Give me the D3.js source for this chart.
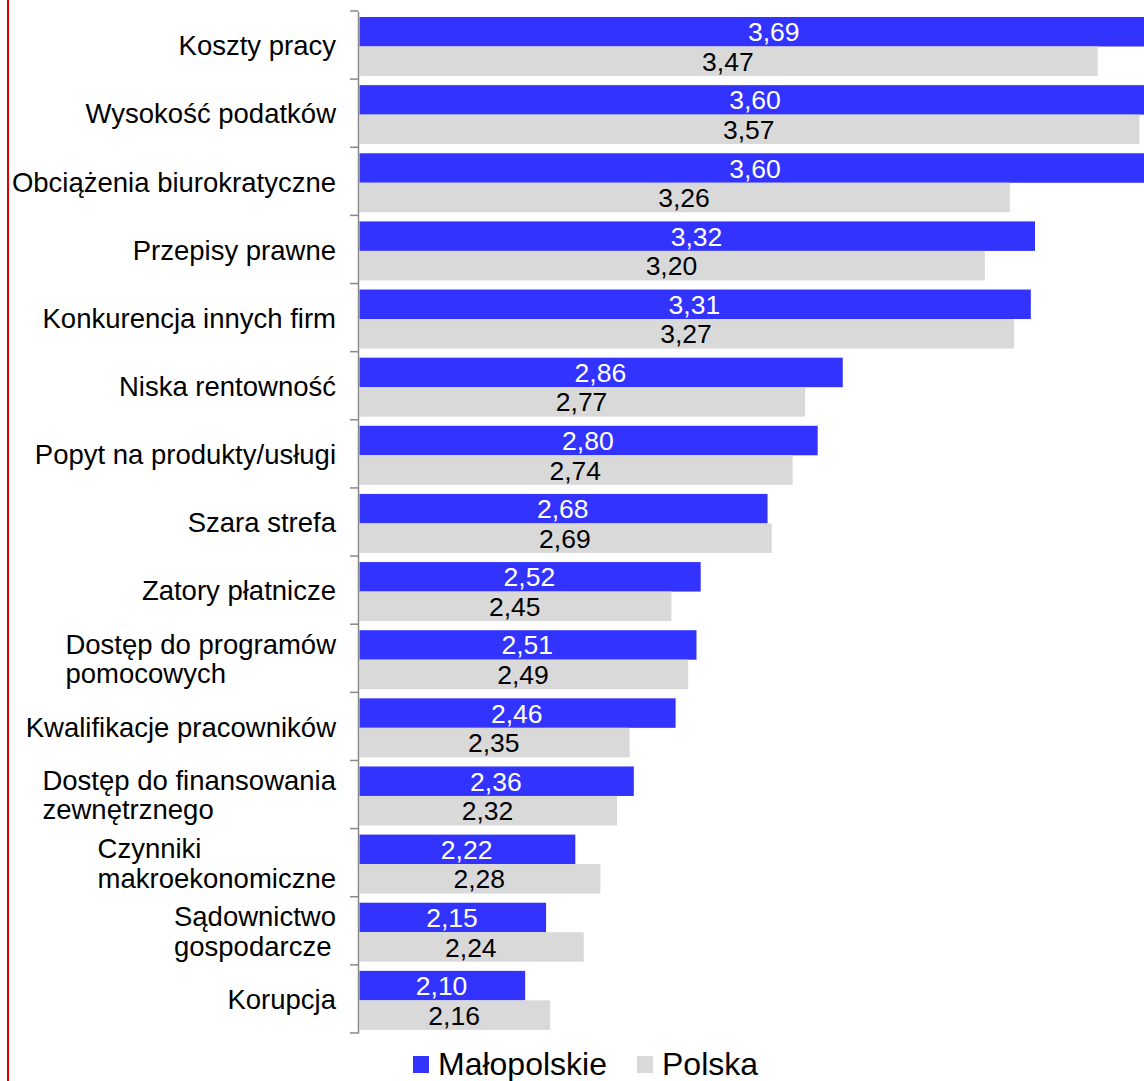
<!DOCTYPE html>
<html>
<head>
<meta charset="utf-8">
<script src="https://cdn.jsdelivr.net/npm/d3@7"></script>
<style>
  body { margin: 0; background: #fff; }
  svg { display: block; font-family: "Liberation Sans", Arial, sans-serif; }
</style>
</head>
<body>
<svg id="chart"></svg>
<script>
"use strict";

/*
*  DATA
*/

var categories = [
  ["Koszty pracy"],
  ["Wysokość podatków"],
  ["Obciążenia biurokratyczne"],
  ["Przepisy prawne"],
  ["Konkurencja innych firm"],
  ["Niska rentowność"],
  ["Popyt na produkty/usługi"],
  ["Szara strefa"],
  ["Zatory płatnicze"],
  ["Dostęp do programów", "pomocowych"],
  ["Kwalifikacje pracowników"],
  ["Dostęp do finansowania", "zewnętrznego"],
  ["Czynniki", "makroekonomiczne"],
  ["Sądownictwo", "gospodarcze"],
  ["Korupcja"]
];
var malopolskie = [3.69, 3.60, 3.60, 3.32, 3.31, 2.86, 2.80, 2.68, 2.52, 2.51, 2.46, 2.36, 2.22, 2.15, 2.10];
var polska = [3.47, 3.57, 3.26, 3.20, 3.27, 2.77, 2.74, 2.69, 2.45, 2.49, 2.35, 2.32, 2.28, 2.24, 2.16];
var seriesNames = ["Małopolskie", "Polska"];
var seriesColors = ["#3333ff", "#d9d9d9"];
var labelColors = ["#ffffff", "#000000"];
var xDomain = [1.7, 3.6];

/*
*  RUN
*/

drawChart();

function drawChart() {
  var width = 1144,
      height = 1081;

  var svg = d3.select("#chart").attr("width", width).attr("height", height);

  // red frame line on the left
  svg.append("line").attr("x1", 8).attr("x2", 8).attr("y1", 0).attr("y2", height)
    .attr("stroke", "#e00000").attr("stroke-width", 2);

  var idx = d3.range(categories.length);
  var y = d3.scaleBand().domain(idx).range([11, 1033]).padding(0);
  var inner = d3.scaleBand().domain([0, 1]).range([6, 65]);
  var x = d3.scaleLinear().domain(xDomain).range([358, 1152]);

  var rows = idx.map(function (i) {
    return [malopolskie[i], polska[i]];
  });

  // bars
  var groups = svg.selectAll(".grp").data(rows).enter().append("g")
    .attr("class", "grp")
    .attr("transform", function (d, i) { return "translate(0," + y(i) + ")"; });

  groups.selectAll("rect").data(function (d) { return d; }).enter().append("rect")
    .attr("x", x(xDomain[0]) + 1.5)
    .attr("y", function (d, s) { return inner(s); })
    .attr("width", function (d) { return x(d) - x(xDomain[0]) - 1.5; })
    .attr("height", inner.bandwidth())
    .attr("fill", function (d, s) { return seriesColors[s]; });

  groups.selectAll("text.val").data(function (d) { return d; }).enter().append("text")
    .attr("class", "val")
    .attr("x", function (d) { return (x(xDomain[0]) + x(d)) / 2; })
    .attr("y", function (d, s) { return inner(s) + inner.bandwidth() / 2; })
    .attr("dy", "0.36em")
    .attr("text-anchor", "middle")
    .attr("font-size", "26.5px")
    .attr("fill", function (d, s) { return labelColors[s]; })
    .text(function (d) { return d.toFixed(2).replace(".", ","); });

  // axis
  var yAxis = d3.axisLeft(y).tickSize(0).tickFormat("");
  var ax = svg.append("g").attr("transform", "translate(358,0)").call(yAxis);
  ax.select(".domain").attr("stroke", "#888").attr("stroke-width", 1.5);
  var tickYs = idx.map(function (i) { return y(i); }).concat([y.range()[1]]);
  ax.selectAll(".tk").data(tickYs).enter().append("line")
    .attr("x1", -8).attr("x2", 0)
    .attr("y1", function (d) { return d; }).attr("y2", function (d) { return d; })
    .attr("stroke", "#888").attr("stroke-width", 1.5);

  // category labels, lines left aligned inside a right aligned block
  var labelRight = 336;
  var lineH = 29.5;
  categories.forEach(function (lines, i) {
    var cy = y(i) + y.bandwidth() / 2;
    var t = svg.append("text")
      .attr("font-size", "27.5px")
      .attr("fill", "#000");
    lines.forEach(function (ln, k) {
      t.append("tspan")
        .attr("x", 0)
        .attr("y", cy + (k - (lines.length - 1) / 2) * lineH)
        .attr("dy", "0.37em")
        .text(ln);
    });
    var w = 0;
    t.selectAll("tspan").each(function () {
      w = Math.max(w, this.getComputedTextLength());
    });
    t.attr("transform", "translate(" + (labelRight - w) + ",0)");
  });

  // legend
  var legendX = [413, 637];
  var lg = svg.selectAll(".lg").data(seriesNames).enter().append("g")
    .attr("class", "lg")
    .attr("transform", function (d, i) { return "translate(" + legendX[i] + ",1056)"; });
  lg.append("rect").attr("width", 16).attr("height", 17)
    .attr("fill", function (d, i) { return seriesColors[i]; });
  lg.append("text").attr("x", 25).attr("y", 19)
    .attr("font-size", "32px").attr("fill", "#000")
    .text(function (d) { return d; });
}
</script>
</body>
</html>
